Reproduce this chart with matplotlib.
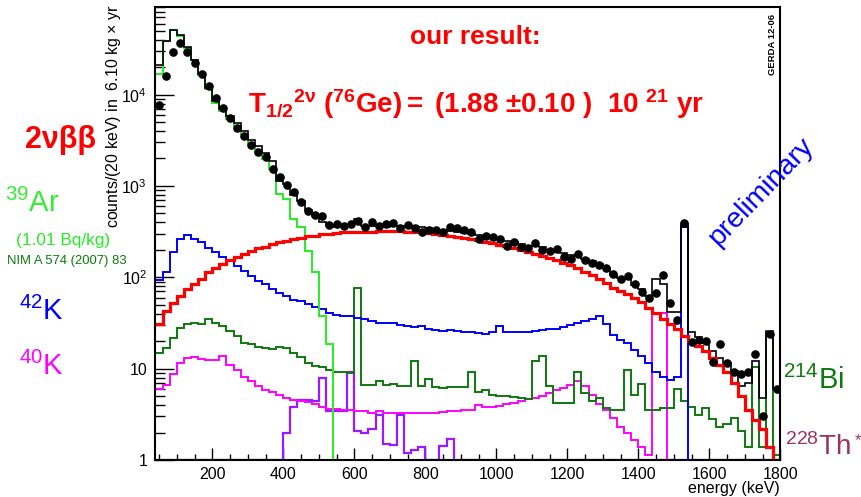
import numpy as np
import matplotlib
matplotlib.use("Agg")
import matplotlib.pyplot as plt
from matplotlib.ticker import MultipleLocator, LogLocator, NullFormatter

plt.rcParams['font.family'] = ['Liberation Sans', 'DejaVu Sans']
plt.rcParams['mathtext.fontset'] = 'custom'
plt.rcParams['mathtext.rm'] = 'Liberation Sans'
plt.rcParams['mathtext.it'] = 'Liberation Sans:italic'
plt.rcParams['mathtext.bf'] = 'Liberation Sans:bold'
plt.rcParams['mathtext.sf'] = 'Liberation Sans'

# ---------------- data (20 keV bins, 40 .. 1800 keV) ----------------
e_min, e_max, bin_width = 40, 1800, 20

data_counts = [7770, 15900, 29400, 37000, 29400, 22300, 17000, 12500, 9270, 7140,
               5590, 4340, 3570, 2840, 2350, 2070, 1540, 1250, 1030, 853,
               662, 527, 480, 472, 376, 382, 366, 382, 416, 352,
               399, 366, 385, 389, 343, 376, 343, 310, 331, 331,
               315, 357, 343, 331, 315, 266, 284, 273, 262, 221,
               241, 215, 208, 235, 198, 195, 203, 165, 158, 182,
               155, 145, 135, 128, 108, 95, 103, 83.8, 68.9, 59.8,
               67.9, 105, 51.8, 33.9, 389, 19.5, 20.5, 20.3, 11.7, 18.7,
               11.4, 9.1, 8.8, 9.1, 14.6, 3.0, 24.2, 6.0]

total_mc = [21000, 38500, 50500, 44500, 33000, 24200, 16700, 11800, 8550, 6920,
            5800, 4890, 4050, 3210, 2730, 2290, 1860, 1140, 1050, 790,
            690, 540, 465, 400, 375, 360, 364, 372, 436, 362,
            362, 364, 360, 361, 361, 358, 361, 352, 345, 336,
            330, 323, 314, 305, 300, 288, 279, 270, 265, 252,
            243, 232, 223, 223, 215, 201, 191, 184, 176, 173,
            160, 151, 141, 125, 107, 98, 96, 83, 75, 63,
            95, 85, 42, 42, 379, 25, 22, 19.2, 15.5, 13,
            11.5, 9.5, 6.5, 7, 12, 4.8, 25.5, 6]

ar39 = [17000, 38500, 50500, 44200, 32600, 23800, 16300, 11400, 8170, 6560,
        5450, 4560, 3730, 2900, 2420, 1980, 1540, 817, 720, 434,
        352, 195, 114, 37.6, 18.4, 1, 1, 1, 1, 1,
        1, 1, 1, 1, 1, 0, 0, 0, 0, 0,
        0, 0, 0, 0, 0, 0, 0, 0, 0, 0,
        0, 0, 0, 0, 0, 0, 0, 0, 0, 0,
        0, 0, 0, 0, 0, 0, 0, 0, 0, 0,
        0, 0, 0, 0, 0, 0, 0, 0, 0, 0,
        0, 0, 0, 0, 0, 0, 0, 0]

k42 = [93, 113, 187, 262, 290, 266, 241, 212, 187, 165,
       151, 133, 117, 103, 91, 84, 74, 68, 62, 57,
       55, 50.5, 47.7, 44.5, 41, 39, 37.6, 38.2, 36, 34.6,
       33, 31.8, 31.5, 32, 30, 29, 28.5, 29, 27.5, 26.8,
       26, 26.5, 26, 25.5, 25, 24.7, 24.2, 25, 29, 25.2,
       25.5, 25.3, 25.5, 26, 26.5, 27, 27.5, 28.5, 30, 31.5,
       33, 35, 37.6, 31, 23.6, 20.8, 19.2, 16.2, 13.7, 11.5,
       9.3, 8.2, 7.6, 8.2, 352, 0, 0, 0, 0, 0,
       0, 0, 0, 0, 0, 0, 0, 0]

bb2nu = [30.5, 42.6, 52.7, 62.3, 73.8, 83.8, 96.7, 113, 125, 139,
         154, 165, 179, 192, 207, 217, 230, 241, 251, 262,
         268, 280, 287, 295, 299, 305, 310, 312, 315, 316,
         317, 318, 318, 318, 318, 317, 316, 312, 307, 300,
         293, 285, 278, 270, 262, 254, 245, 236, 227, 218,
         208, 198, 188, 180, 170, 162, 153, 145, 135, 125,
         115, 106, 95, 86, 77, 71, 65, 59.8, 53.5, 46.5,
         41, 35.2, 30.5, 27.3, 22.6, 20, 17.6, 15.5, 13.1, 11.1,
         9.3, 7.0, 5.0, 3.5, 2.75, 2.2, 1.4, 1.0]

bi214 = [14.9, 16.9, 21.7, 28, 31.2, 31.8, 31.2, 34.6, 31.8, 29.2,
         25.7, 22.6, 19.2, 18.4, 17.3, 16.9, 16.5, 17.3, 16.9, 14.9,
         13.4, 11.5, 10.6, 10.4, 9.75, 9.3, 9.1, 9.0, 77, 6.6,
         6.6, 7.4, 6.6, 6.8, 6.4, 6.4, 12.0, 6.4, 7.7, 6.3,
         6.1, 6.3, 6.3, 6.3, 9.1, 5.55, 5.8, 5.2, 5.05, 5.0,
         4.9, 4.8, 4.6, 12.0, 13.7, 6.4, 4.2, 4.2, 4.2, 9.1,
         5.4, 4.4, 4.8, 3.7, 3.55, 3.55, 9.6, 5.2, 6.8, 3.55,
         3.55, 3.7, 3.7, 6.0, 4.4, 3.85, 3.1, 3.7, 2.8, 2.3,
         2.5, 2.9, 2.1, 1.4, 10.5, 1.4, 25.7, 1.13]

k40 = [6.0, 6.7, 8.8, 11.5, 13.1, 13.4, 12.8, 12.3, 12.5, 13.9,
       11.1, 9.75, 8.2, 7.25, 6.5, 5.9, 5.5, 5.2, 4.8, 4.56,
       4.45, 4.27, 4.1, 3.8, 3.6, 3.6, 3.5, 3.5, 3.4, 3.4,
       3.3, 3.4, 3.3, 3.3, 3.3, 3.3, 3.3, 3.25, 3.25, 3.3,
       3.35, 3.4, 3.45, 3.5, 3.5, 4.0, 3.8, 3.85, 3.9, 4.1,
       4.2, 4.4, 4.6, 4.8, 5.0, 5.4, 5.9, 6.1, 6.7, 7.4,
       6.5, 5.2, 4.1, 3.55, 2.9, 2.3, 1.96, 1.66, 1.4, 1.13,
       41, 41, 0, 0, 0, 0, 0, 0, 0, 0,
       0, 0, 0, 0, 0, 0, 0, 0]

th228 = [0, 0, 0, 0, 0, 0, 0, 0, 0, 0,
         0, 0, 0, 0, 0, 0, 0, 0, 1.96, 3.85,
         4.56, 4.56, 4.4, 7.9, 3.4, 3.4, 3.4, 9.3, 2.1, 2.0,
         2.2, 3.1, 1.5, 1.45, 3.1, 1.18, 1.3, 1.4, 0, 0,
         1.44, 1.7, 0, 0, 0, 0, 0, 0, 0, 0,
         0, 0, 0, 0, 0, 0, 0, 0, 0, 0,
         0, 0, 0, 0, 0, 0, 0, 0, 0, 0,
         0, 0, 0, 0, 0, 0, 0, 0, 0, 0,
         0, 0, 0, 0, 0, 0, 0, 0]

x_ticks = [200, 400, 600, 800, 1000, 1200, 1400, 1600, 1800]
y_ticks = [1, 10, 100, 1000, 10000]
y_tick_labels = ['1', '10', r'$10^{2}$', r'$10^{3}$', r'$10^{4}$']

# ---------------- figure ----------------
W, H = 862, 497
fig = plt.figure(figsize=(W / 100, H / 100), dpi=100)
ax_l, ax_r, ax_t, ax_b = 155.5, 780.3, 7.5, 460.0
ax = fig.add_axes([ax_l / W, 1 - ax_b / H, (ax_r - ax_l) / W, (ax_b - ax_t) / H])

edges = np.arange(e_min, e_max + bin_width, bin_width)
centers = 0.5 * (edges[:-1] + edges[1:])

def draw(vals, color, lw=1.4, floor=0.5, z=2):
    v = np.clip(np.asarray(vals, float), floor, None)
    ax.stairs(v, edges, color=color, lw=lw, baseline=None, zorder=z)

draw(th228, '#9a1aff', floor=1.0, lw=1.6)
draw(k40, '#ff00ff')
draw(bi214, '#0c7a0c')
draw(k42, '#0000ff')
draw(ar39, '#22ee22')
draw(total_mc, 'black', lw=1.2, z=3)
draw(bb2nu, '#ff0000', lw=2.3, z=3)
ax.plot(centers, data_counts, 'o', color='black', ms=6.2, zorder=5, mew=0)

ax.set_yscale('log')
ax.set_xlim(e_min, e_max)
ax.set_ylim(1, 9e4)

ax.xaxis.set_minor_locator(MultipleLocator(50))
ax.set_xticks(x_ticks)
ax.set_xticklabels([str(t) for t in x_ticks])
ax.yaxis.set_minor_locator(LogLocator(base=10, subs=np.arange(2, 10), numticks=20))
ax.set_yticks(y_ticks)
ax.set_yticklabels(y_tick_labels)
ax.yaxis.set_minor_formatter(NullFormatter())
ax.tick_params(axis='x', which='major', direction='in', length=9, width=1, labelsize=11.5, pad=5)
ax.tick_params(axis='x', which='minor', direction='in', length=4, width=1)
ax.tick_params(axis='y', which='major', direction='in', length=14, width=1, labelsize=11.5, pad=6)
ax.tick_params(axis='y', which='minor', direction='in', length=7, width=1)
for s in ax.spines.values():
    s.set_linewidth(1.5)
    s.set_zorder(6)

def P(x, y):
    return (x / W, 1 - y / H)

# axis titles
fig.text(*P(780, 488), 'energy (keV)', ha='right', va='center', fontsize=11.5)
fig.text(*P(114, 4), r'counts/(20 keV) in  6.10 kg $\times$ yr', rotation=90,
         ha='center', va='top', fontsize=11.5)

# annotations
fig.text(*P(475, 37), 'our result:', color='red', fontsize=19, fontweight='bold',
         ha='center', va='center')
fig.text(*P(248, 113),
         r'$\mathbf{T_{1/2}{}^{2\nu}\ (^{76}Ge){=}\ (1.88\ {\pm}0.10\ )\ \ 10\ ^{21}\ yr}$',
         color='red', fontsize=20, ha='left', va='baseline')
fig.text(*P(761, 192), 'preliminary', color='#0000ff', fontsize=20.5, rotation=46,
         ha='center', va='center', rotation_mode='anchor')
fig.text(*P(772.5, 44), 'GERDA 12-06', fontsize=6.8, fontweight='bold', rotation=90,
         ha='center', va='center')

# left legend-like labels
fig.text(*P(61, 140), '2νββ', color='red', fontsize=22, fontweight='bold', ha='center', va='center')
fig.text(*P(32, 203), r'${}^{39}$Ar', color='#33ee33', fontsize=21, ha='center', va='center')
fig.text(*P(63, 241), '(1.01 Bq/kg)', color='#22ee22', fontsize=12.4, ha='center', va='center')
fig.text(*P(67, 261), 'NIM A 574 (2007) 83', color='#0c7a0c', fontsize=9.4, ha='center', va='center')
fig.text(*P(41, 311), r'${}^{42}$K', color='#0000ff', fontsize=21, ha='center', va='center')
fig.text(*P(41, 366), r'${}^{40}$K', color='#ff00ff', fontsize=21, ha='center', va='center')
fig.text(*P(783, 380), r'${}^{214}$Bi', color='#0c7a0c', fontsize=21, ha='left', va='center')
fig.text(*P(785, 447), r'${}^{228}$Th', color='#993366', fontsize=20, ha='left', va='center')
fig.text(*P(858, 441), '*', color='#993366', fontsize=12, ha='center', va='center')

fig.savefig('out.png', dpi=100)
